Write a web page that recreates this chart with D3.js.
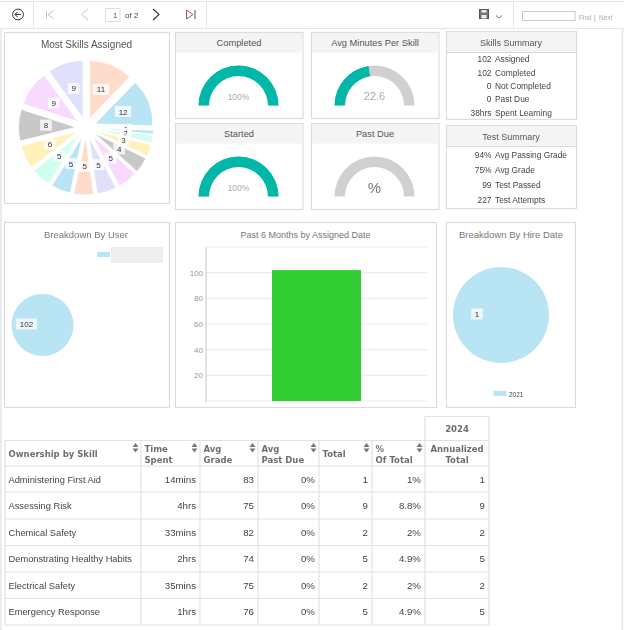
<!DOCTYPE html>
<html>
<head>
<meta charset="utf-8">
<script src="https://cdn.jsdelivr.net/npm/d3@7"></script>
<style>
  html, body { margin: 0; padding: 0; background: #fff; }
  svg { display: block; filter: blur(0.3px); }
  text { font-family: "Liberation Sans", Arial, sans-serif; }
  .hd { font-family: "DejaVu Sans", Verdana, sans-serif; font-weight: bold; fill: #6e6e6e; font-size: 8.5px; }
</style>
</head>
<body>
<svg id="page" width="624" height="630"></svg>
<script>
// most skills pie, in drawing order
var skillValues = [1, 2, 3, 4, 5, 5, 5, 5, 5, 6, 8, 9, 9, 11, 12];
var pieColors = ["#B8E4F3", "#CFFFEE", "#FFF1B8", "#C8C8C8", "#F7DAFD", "#E0E0FB", "#FFDCC9"];

var gaugeNames = ["Completed", "Avg Minutes Per Skill", "Started", "Past Due"];
var gaugeValues = [100, 22.6, 100, 0];
var gaugeMax = [100, 50, 100, 100];
var gaugeLabels = ["100%", "22.6", "100%", "%"];

var skillSummaryValues = ["102", "102", "0", "0", "38hrs"];
var skillSummaryNames = ["Assigned", "Completed", "Not Completed", "Past Due", "Spent Learning"];
var testSummaryValues = ["94%", "75%", "99", "227"];
var testSummaryNames = ["Avg Passing Grade", "Avg Grade", "Test Passed", "Test Attempts"];

var userValues = [102];
var hireYears = ["2021"];
var hireValues = [1];

var monthCategories = ["Past 6 Months"];
var monthValues = [102];
var monthTicks = [20, 40, 60, 80, 100];

var skillNames = ["Administering First Aid", "Assessing Risk", "Chemical Safety", "Demonstrating Healthy Habits", "Electrical Safety", "Emergency Response"];
var timeSpent = ["14mins", "4hrs", "33mins", "2hrs", "35mins", "1hrs"];
var avgGrade = ["83", "75", "82", "74", "75", "76"];
var avgPastDue = ["0%", "0%", "0%", "0%", "0%", "0%"];
var totals = ["1", "9", "2", "5", "2", "5"];
var pctOfTotal = ["1%", "8.8%", "2%", "4.9%", "2%", "4.9%"];
var annualized = ["1", "9", "2", "5", "2", "5"];

var svg = d3.select("#page");
var border = "#dcdcdc";

function line(x1, y1, x2, y2, color, w) {
  return svg.append("line").attr("x1", x1).attr("y1", y1).attr("x2", x2).attr("y2", y2)
    .attr("stroke", color || border).attr("stroke-width", w || 1);
}
function label(x, y, str, size, color, anchor, parent) {
  return (parent || svg).append("text").attr("x", x).attr("y", y).text(str)
    .attr("font-size", size).attr("fill", color || "#444")
    .attr("text-anchor", anchor || "start");
}
function box(x, y, w, h, header) {
  svg.append("rect").attr("x", x + .5).attr("y", y + .5).attr("width", w).attr("height", h)
    .attr("fill", "#fff").attr("stroke", border).attr("stroke-width", 1.2);
  if (header) svg.append("rect").attr("x", x + 1).attr("y", y + 1).attr("width", w - 1).attr("height", header)
    .attr("fill", "#f4f4f4");
}

// toolbar
line(0, 1.5, 624, 1.5, "#e6e6e6");
line(0, 28.5, 624, 28.5, "#e6e6e6");
line(1, 28, 1, 630, "#e6e6e6", 1.5);
line(622.5, 28, 622.5, 630, "#e6e6e6", 1.5);
line(33.5, 2, 33.5, 28, "#e6e6e6");
line(206.5, 2, 206.5, 28, "#e6e6e6");
line(513.5, 2, 513.5, 28, "#e6e6e6");
function icon(d, color, w) {
  svg.append("path").attr("d", d).attr("fill", "none").attr("stroke", color).attr("stroke-width", w || 1);
}
svg.append("circle").attr("cx", 18).attr("cy", 14.5).attr("r", 5.4).attr("fill", "none").attr("stroke", "#333");
icon("M15 14.5H21M17.5 12L15 14.5L17.5 17", "#333");
icon("M46.5 10.5V18.5M53.5 10.5L48 14.5L53.5 18.5", "#c4c4c4");
icon("M88 9L81.5 14.5L88 20", "#c4c4c4");
svg.append("rect").attr("x", 105.5).attr("y", 8.5).attr("width", 14.5).attr("height", 13)
  .attr("fill", "#fff").attr("stroke", "#ddd");
label(115, 17.5, "1", 7.5, "#555", "middle");
label(125, 18, "of 2", 8, "#444");
icon("M153 9L159 14.5L153 20", "#333", 1.1);
icon("M186.5 10L193 14.5L186.5 19Z", "#8a5a70");
icon("M195 10V19", "#555");
svg.append("rect").attr("x", 479.5).attr("y", 9.5).attr("width", 9).attr("height", 9)
  .attr("fill", "#777").attr("stroke", "#555");
svg.append("rect").attr("x", 481.5).attr("y", 10).attr("width", 5).attr("height", 2.5).attr("fill", "#eee");
svg.append("rect").attr("x", 481.5).attr("y", 15).attr("width", 5).attr("height", 3.5).attr("fill", "#eee");
icon("M496 15.5L499 18L502 15.5", "#777");
svg.append("rect").attr("x", 522.5).attr("y", 11.5).attr("width", 52.5).attr("height", 9)
  .attr("fill", "#fff").attr("stroke", "#ccc");
label(579, 19.5, "Find", 6.5, "#aaa");
label(594, 19.5, "|", 6.5, "#999");
label(599, 19.5, "Next", 6.5, "#aaa");

// pie with pulled out slices and a label plate on each one
function drawPie(values, cx, cy, r, gap, labelDist, startDeg) {
  var start = startDeg * Math.PI / 180;
  var pie = d3.pie().sort(null).startAngle(start).endAngle(start + 2 * Math.PI);
  var arc = d3.arc().innerRadius(0).outerRadius(r);
  var arcs = pie(values);
  var g = svg.append("g").attr("transform", "translate(" + cx + "," + cy + ")");
  g.selectAll("path").data(arcs).join("path")
    .attr("d", arc)
    .attr("fill", function(d, i) { return pieColors[i % pieColors.length]; })
    .attr("stroke", values.length > 1 ? "#fff" : "none")
    .attr("stroke-width", 1)
    .attr("transform", function(d) {
      if (values.length == 1) return null;
      var a = (d.startAngle + d.endAngle) / 2;
      return "translate(" + gap * Math.sin(a) + "," + (-gap * Math.cos(a)) + ")";
    });
  arcs.forEach(function(d) {
    var a = values.length == 1 ? -Math.PI / 2 : (d.startAngle + d.endAngle) / 2;
    var x = labelDist * Math.sin(a), y = -labelDist * Math.cos(a) - 1;
    var w = String(d.value).length * 4.6 + 7;
    g.append("rect").attr("x", x - w / 2).attr("y", y - 5.5).attr("width", w).attr("height", 11)
      .attr("fill", "#fff").attr("fill-opacity", .75);
    label(x, y + 3, d.value, 8, "#333", "middle", g);
  });
}

box(4, 32, 165, 171);
label(86.5, 47.5, "Most Skills Assigned", 10, "#555", "middle");
drawPie(skillValues, 86, 127.5, 58, 9.6, 40, 92);

// gauges
var gaugeBoxes = [[175, 32], [311, 32], [175, 123], [311, 123]];
gaugeNames.forEach(function(name, i) {
  var bx = gaugeBoxes[i][0], by = gaugeBoxes[i][1];
  box(bx, by, 127.5, 86, 19.5);
  label(bx + 64, by + 13.5, name, 9.3, "#555", "middle");
  var g = svg.append("g").attr("transform", "translate(" + (bx + 63.5) + "," + (by + 73.5) + ")");
  var angle = d3.scaleLinear().domain([0, gaugeMax[i]]).range([-Math.PI / 2, Math.PI / 2]);
  var arc = d3.arc().innerRadius(29.5).outerRadius(40);
  g.append("path").attr("d", arc({ startAngle: -Math.PI / 2, endAngle: Math.PI / 2 })).attr("fill", "#d0d0d0");
  if (gaugeValues[i] > 0) {
    g.append("path").attr("d", arc({ startAngle: -Math.PI / 2, endAngle: angle(gaugeValues[i]) })).attr("fill", "#00B7A8");
  }
  var big = gaugeLabels[i] == "100%" ? 8.5 : (gaugeLabels[i] == "%" ? 15 : 11);
  label(0, gaugeLabels[i] == "%" ? -4 : -5.5, gaugeLabels[i], big, "#aaa", "middle", g)
    .attr("fill", gaugeLabels[i] == "%" ? "#777" : "#aaa");
});

// summaries
function summary(y, h, head, title, values, names, rowYs) {
  box(446, y, 130, h, head);
  line(446, y + head + 1.5, 576, y + head + 1.5, "#d8d8d8");
  label(511, y + 14.5, title, 9, "#555", "middle");
  values.forEach(function(v, i) {
    label(491.5, rowYs[i], v, 8.4, "#444", "end");
    label(495, rowYs[i], names[i], 8.4, "#444");
  });
}
summary(31, 88, 20, "Skills Summary", skillSummaryValues, skillSummaryNames, [62, 75.5, 89, 102, 115.5]);
summary(125, 83, 20, "Test Summary", testSummaryValues, testSummaryNames, [157.5, 173, 188, 203]);

// breakdown by user
box(4, 222, 165, 185);
label(86, 238, "Breakdown By User", 9.5, "#777", "middle");
drawPie(userValues, 42.5, 325, 31, 0, 16, 0);
svg.append("rect").attr("x", 97).attr("y", 252).attr("width", 13).attr("height", 5).attr("fill", "#B8E4F3");
svg.append("rect").attr("x", 111).attr("y", 247).attr("width", 52).attr("height", 16).attr("fill", "#eeeeee");

// bar chart
box(175, 222, 261, 185);
label(305.5, 237.5, "Past 6 Months by Assigned Date", 9, "#777", "middle");
var x = d3.scaleBand().domain(monthCategories).range([206, 427]).paddingInner(.4257).paddingOuter(.4257);
var y = d3.scaleLinear().domain([0, 120]).range([401, 247]);
var yAxis = d3.axisLeft(y).tickValues(monthTicks).tickSize(0).tickPadding(3);
var axisG = svg.append("g").attr("transform", "translate(206,0)").call(yAxis);
axisG.select(".domain").remove();
axisG.selectAll("text").attr("font-size", 8).attr("fill", "#999").style("font-family", "Liberation Sans");
monthTicks.concat([0, 120]).forEach(function(t) { line(206, y(t), 427, y(t), "#ececec", 1.2); });
line(206, 247, 206, 402, "#cfcfcf", 1.2);
svg.selectAll("rect.bar").data(monthValues).join("rect").attr("class", "bar")
  .attr("x", function(d, i) { return x(monthCategories[i]); })
  .attr("width", x.bandwidth())
  .attr("y", function(d) { return y(d); })
  .attr("height", function(d) { return y(0) - y(d); })
  .attr("fill", "#32CD32");

// breakdown by hire date
box(446, 222, 129, 185);
label(511, 238, "Breakdown By Hire Date", 9.5, "#777", "middle");
drawPie(hireValues, 501, 315, 48, 0, 24, 0);
svg.append("rect").attr("x", 493.5).attr("y", 391).attr("width", 13).attr("height", 5).attr("fill", "#B8E4F3");
label(509, 396.5, hireYears[0], 6.5, "#444");

// table
var colX = [5, 141, 200, 258, 319, 372, 425, 489];
var rowY = [440.5, 466, 492, 519, 545.5, 572, 598.5, 625];
var grid = "#e2e2e2";
colX.forEach(function(cx) { line(cx, 440.5, cx, 625, grid, 1.2); });
rowY.forEach(function(ry) { line(5, ry, 489, ry, grid, 1.2); });
line(425, 416.5, 425, 440.5, grid, 1.2);
line(489, 416.5, 489, 440.5, grid, 1.2);
line(425, 416.5, 489, 416.5, grid, 1.2);
svg.append("text").attr("class", "hd").attr("x", 457).attr("y", 432).attr("text-anchor", "middle").text("2024");

var heads = [["Ownership by Skill"], ["Time", "Spent"], ["Avg", "Grade"], ["Avg", "Past Due"], ["Total"], ["%", "Of Total"], ["Annualized", "Total"]];
heads.forEach(function(h, i) {
  var centered = i == 6;
  var tx = centered ? (colX[i] + colX[i + 1]) / 2 : colX[i] + 3.5;
  h.forEach(function(t, j) {
    svg.append("text").attr("class", "hd").attr("x", tx)
      .attr("y", h.length == 1 ? 457 : 452 + j * 10.5)
      .attr("text-anchor", centered ? "middle" : "start").text(t);
  });
  if (i < 6) {
    var ax = colX[i + 1] - 5.5;
    svg.append("path").attr("d", "M" + (ax - 3) + " 447L" + ax + " 443L" + (ax + 3) + " 447Z").attr("fill", "#777");
    svg.append("path").attr("d", "M" + (ax - 3) + " 448.5L" + ax + " 452.5L" + (ax + 3) + " 448.5Z").attr("fill", "#777");
  }
});

var columns = [timeSpent, avgGrade, avgPastDue, totals, pctOfTotal, annualized];
skillNames.forEach(function(name, r) {
  var ty = (rowY[r + 1] + rowY[r + 2]) / 2 + 3.5;
  label(8.5, ty, name, 9.3, "#444");
  columns.forEach(function(col, c) {
    label(colX[c + 2] - 4, ty, col[r], 9.7, "#444", "end");
  });
});
</script>
</body>
</html>
